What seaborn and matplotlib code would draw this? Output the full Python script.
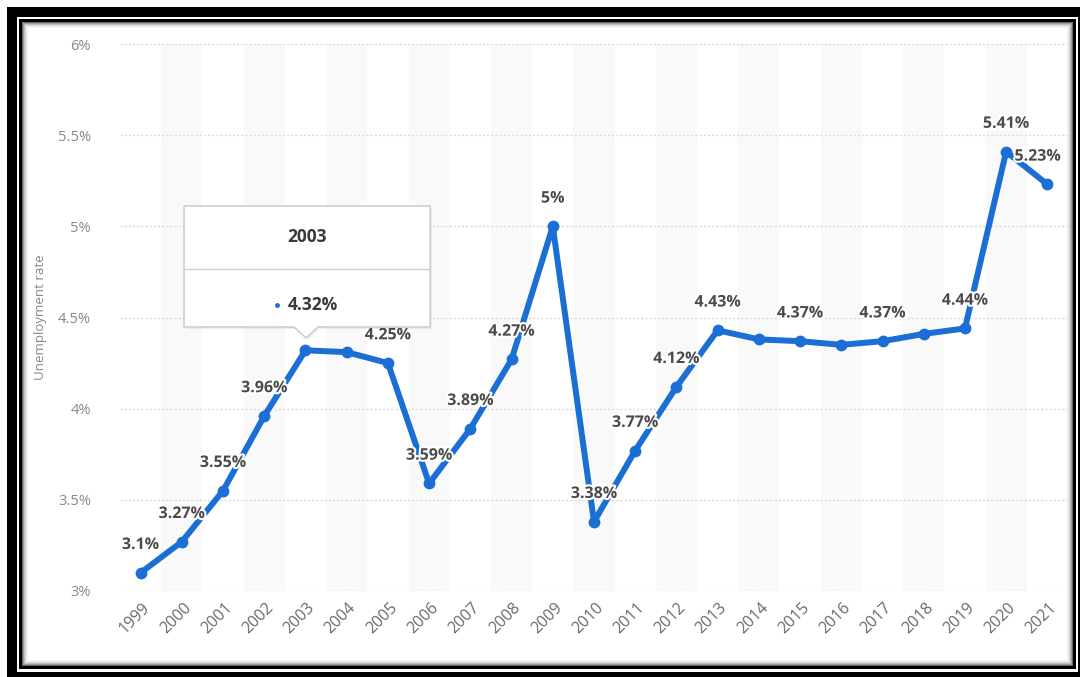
import matplotlib
matplotlib.use("Agg")
import matplotlib.pyplot as plt
import matplotlib.patheffects as pe
import matplotlib.transforms as mtrans
from matplotlib.patches import Rectangle, Polygon
import pandas as pd
import seaborn as sns

# Annual unemployment rate, in percent
years = [str(y) for y in range(1999, 2022)]
rates = [3.10, 3.27, 3.55, 3.96, 4.32, 4.31, 4.25, 3.59, 3.89, 4.27, 5.00,
         3.38, 3.77, 4.12, 4.43, 4.38, 4.37, 4.35, 4.37, 4.41, 4.44, 5.41, 5.23]
labeled_years = ["1999", "2000", "2001", "2002", "2005", "2006", "2007", "2008",
                 "2009", "2010", "2011", "2012", "2013", "2015", "2017", "2019",
                 "2020", "2021"]
y_ticks = [3.0, 3.5, 4.0, 4.5, 5.0, 5.5, 6.0]
y_label = "Unemployment rate"
tooltip_year = "2003"

LINE = "#1a6ed4"
W, H = 1080, 677

sns.set_theme(style="white")
plt.rcParams["font.family"] = ["Open Sans", "DejaVu Sans"]

fig = plt.figure(figsize=(W / 100, H / 100), dpi=100)
fig.patch.set_facecolor("white")


def fx(x):
    return x / W


def fy(y):
    return 1 - y / H


def frect(x0, y0, x1, y1, **kw):
    fig.patches.append(Rectangle((fx(x0), fy(y1)), fx(x1) - fx(x0), fy(y0) - fy(y1),
                                 transform=fig.transFigure, **kw))


# Picture frame: thick black border, thin white gap, thin black line, soft shadow
frect(7, 7, 1080, 677, facecolor="black", edgecolor="none", zorder=-5)
frect(17, 17, 1078, 672, facecolor="white", edgecolor="none", zorder=-5)
frect(19, 19, 1076, 669, facecolor="black", edgecolor="none", zorder=-5)
for i, shade in enumerate(["#6a6a6a", "#9a9a9a", "#bdbdbd", "#d6d6d6", "#e8e8e8", "#f4f4f4"]):
    frect(22 + i, 22 + i, 1073 - i, 666 - i, facecolor=shade, edgecolor="none", zorder=-5)
frect(28, 28, 1067, 660, facecolor="white", edgecolor="none", zorder=-5)

ax = fig.add_axes([fx(120), fy(591), fx(1068) - fx(120), fy(44) - fy(591)])
ax.set_facecolor("none")

df = pd.DataFrame({"year": years, "rate": rates})

# Alternating column bands
for i in range(1, len(years), 2):
    ax.axvspan(i - 0.5, i + 0.5, color="#f9f9f9", zorder=0, lw=0)

sns.lineplot(data=df, x="year", y="rate", ax=ax, color=LINE, linewidth=4.3,
             marker="o", markersize=8.5, markeredgewidth=0, zorder=3, sort=False)

ax.set_xlim(-0.5, len(years) - 0.5)
ax.set_ylim(y_ticks[0], y_ticks[-1])
ax.set_yticks(y_ticks)
ax.set_yticklabels([f"{v:g}%" for v in y_ticks])
ax.set_axisbelow(True)
ax.yaxis.grid(True, color="#dadada", linestyle=(0, (1.5, 1.5)), linewidth=1.0)
ax.xaxis.grid(False)
for s in ax.spines.values():
    s.set_visible(False)
ax.tick_params(axis="y", length=0, pad=21, labelsize=10.5, labelcolor="#888888")
ax.tick_params(axis="x", length=0, pad=10, labelsize=11.5, labelcolor="#6a6a6a")
ax.set_xticks(range(len(years)))
ax.set_xticklabels(years, rotation=45, ha="right", va="center", rotation_mode="anchor")
# nudge the slanted year labels so their upper end sits just right of each tick
nudge = mtrans.ScaledTranslation(7 / 100, 0, fig.dpi_scale_trans)
for lbl in ax.get_xticklabels():
    lbl.set_transform(lbl.get_transform() + nudge)
ax.set_xlabel("")
ax.set_ylabel(y_label, fontsize=9.5, color="#888888")
ax.yaxis.set_label_coords(-0.077, 0.5)

# Value labels above the points
halo = [pe.withStroke(linewidth=3, foreground="white")]
shift = {"2021": -7}
for yr, v in zip(years, rates):
    if yr not in labeled_years:
        continue
    ax.annotate(f"{v:g}%", xy=(years.index(yr), v), xytext=(shift.get(yr, 0), 20),
                textcoords="offset points", ha="center", va="center",
                fontsize=11.5, fontweight="bold", color="#4a4a4a",
                path_effects=halo, zorder=5)

# Hover tooltip for the highlighted year
ti = years.index(tooltip_year)
bx0, by0, bx1, by1 = 184, 206, 430, 327
tip_x = 306
shadow_pts = [(fx(bx0 + 2), fy(by0 + 2)), (fx(bx1 + 2), fy(by0 + 2)),
              (fx(bx1 + 2), fy(by1 + 2)), (fx(tip_x + 14), fy(by1 + 2)),
              (fx(tip_x + 2), fy(by1 + 13)), (fx(tip_x - 10), fy(by1 + 2)),
              (fx(bx0 + 2), fy(by1 + 2))]
fig.patches.append(Polygon(shadow_pts, closed=True, transform=fig.transFigure,
                           facecolor="#000000", alpha=0.06, edgecolor="none", zorder=8))
box_pts = [(fx(bx0), fy(by0)), (fx(bx1), fy(by0)), (fx(bx1), fy(by1)),
           (fx(tip_x + 12), fy(by1)), (fx(tip_x), fy(by1 + 11)),
           (fx(tip_x - 12), fy(by1)), (fx(bx0), fy(by1))]
fig.patches.append(Polygon(box_pts, closed=True, transform=fig.transFigure,
                           facecolor="white", edgecolor="#c8c8c8", linewidth=1.0, zorder=9))
fig.lines.append(plt.Line2D([fx(bx0), fx(bx1)], [fy(269), fy(269)],
                            transform=fig.transFigure, color="#d0d0d0", lw=1.0, zorder=10))
fig.text(fx(307), fy(237), years[ti], ha="center", va="center", fontsize=12.5,
         fontweight="bold", color="#3a3a3a", zorder=11)
fig.text(fx(288), fy(305), f"{rates[ti]:g}%", ha="left", va="center", fontsize=12.5,
         fontweight="bold", color="#3a3a3a", zorder=11)
fig.lines.append(plt.Line2D([fx(277)], [fy(305)], transform=fig.transFigure,
                            marker="o", markersize=3.5, markeredgewidth=0,
                            color=LINE, zorder=11))

fig.savefig("out.png", dpi=100)
